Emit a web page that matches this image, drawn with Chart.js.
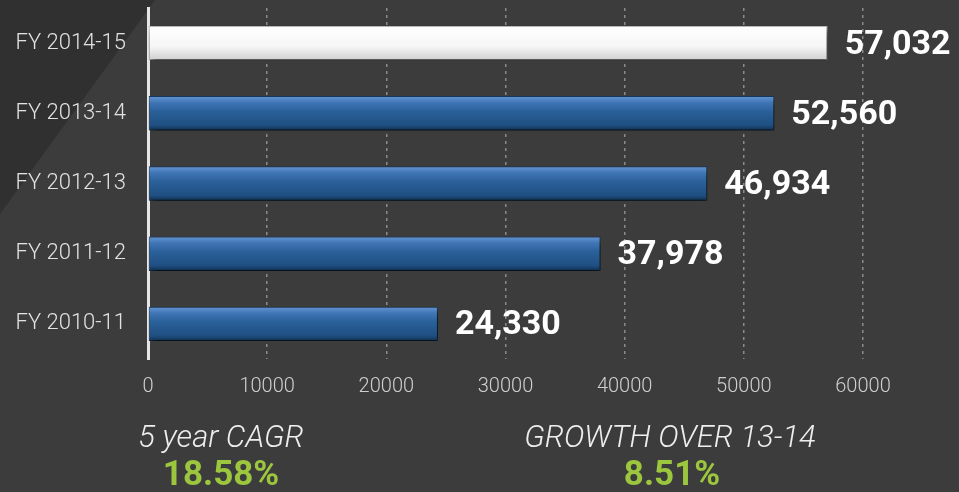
<!DOCTYPE html>
<html>
<head>
<meta charset="utf-8">
<script src="https://cdn.jsdelivr.net/npm/chart.js@4"></script>
<style>
  html, body { margin: 0; padding: 0; background: #3c3c3c; }
  #wrap { position: relative; width: 959px; height: 492px; overflow: hidden; }
  canvas { position: absolute; left: 0; top: 0; }
  .cap { position: absolute; font-family: Roboto, sans-serif; font-style: italic; font-weight: 300;
         font-size: 31px; color: #eeeeee; transform: translateX(-50%); white-space: nowrap; }
  .val { position: absolute; font-family: Roboto, sans-serif; font-weight: 700;
         font-size: 35px; color: #9cc63d; transform: translateX(-50%); white-space: nowrap; }
</style>
</head>
<body>
<div id="wrap">
  <canvas id="salesChart" width="959" height="492"></canvas>
  <div class="cap" style="left:221px; top:418px;">5 year CAGR</div>
  <div class="val" style="left:221px; top:453px;">18.58%</div>
  <div class="cap" style="left:670px; top:418px;">GROWTH OVER 13-14</div>
  <div class="val" style="left:672px; top:453px;">8.51%</div>
</div>
<script>
// chart values
const years = ['FY 2014-15', 'FY 2013-14', 'FY 2012-13', 'FY 2011-12', 'FY 2010-11'];
const sales = [57032, 52560, 46934, 37978, 24330];
const xTicks = [0, 10000, 20000, 30000, 40000, 50000, 60000];

// dark background with the diagonal corner
const backdrop = {
    id: 'backdrop',
    beforeDraw(chart) {
        const ctx = chart.ctx;
        ctx.save();
        ctx.fillStyle = '#3c3c3c';
        ctx.fillRect(0, 0, chart.width, chart.height);
        ctx.fillStyle = '#303030';
        ctx.beginPath();
        ctx.moveTo(0, 0);
        ctx.lineTo(155, 0);
        ctx.lineTo(0, 214);
        ctx.closePath();
        ctx.fill();
        ctx.restore();
    }
};

// shadow under the bars
const barShadow = {
    id: 'barShadow',
    beforeDatasetsDraw(chart) {
        const ctx = chart.ctx;
        ctx.save();
        ctx.shadowColor = 'rgba(0,0,0,0.75)';
        ctx.shadowBlur = 6;
        ctx.shadowOffsetY = 5;
        ctx.shadowOffsetX = 2;
    },
    afterDatasetsDraw(chart) {
        chart.ctx.restore();
    }
};

// value labels to the right of each bar
const valueLabels = {
    id: 'valueLabels',
    afterDatasetsDraw(chart) {
        const ctx = chart.ctx;
        const meta = chart.getDatasetMeta(0);
        ctx.save();
        ctx.font = 'bold 34px Roboto';
        ctx.fillStyle = '#ffffff';
        ctx.textAlign = 'left';
        ctx.textBaseline = 'middle';
        meta.data.forEach((bar, i) => {
            ctx.fillText(sales[i].toLocaleString('en-US'), bar.x + 17, bar.y + 2);
        });
        ctx.restore();
    }
};

function barFill(context) {
    const chart = context.chart;
    const yScale = chart.scales.y;
    if (!chart.chartArea || !yScale) return '#2a6099';
    const yc = yScale.getPixelForValue(context.dataIndex);
    const g = chart.ctx.createLinearGradient(0, yc - 17, 0, yc + 17);
    if (context.dataIndex === 0) {
        g.addColorStop(0, '#ffffff');
        g.addColorStop(0.6, '#f6f6f6');
        g.addColorStop(1, '#cfcfcf');
    } else {
        g.addColorStop(0, '#6494d2');
        g.addColorStop(0.2, '#3e74b4');
        g.addColorStop(0.45, '#2a6099');
        g.addColorStop(0.85, '#1f4f82');
        g.addColorStop(1, '#10304f');
    }
    return g;
}

new Chart(document.getElementById('salesChart'), {
    type: 'bar',
    data: {
        labels: years,
        datasets: [{
            label: 'Sales',
            data: sales,
            backgroundColor: barFill,
            borderColor: (c) => c.dataIndex === 0 ? '#bdbdbd' : '#17385c',
            borderWidth: 1,
            borderSkipped: false,
            barPercentage: 0.49,
            categoryPercentage: 1
        }]
    },
    plugins: [backdrop, barShadow, valueLabels],
    options: {
        indexAxis: 'y',
        responsive: false,
        animation: false,
        layout: { padding: { top: 8, right: 96, bottom: 77, left: 0 } },
        plugins: {
            legend: { display: false },
            tooltip: { enabled: false }
        },
        scales: {
            x: {
                min: 0,
                max: 60000,
                afterBuildTicks: (s) => { s.ticks = xTicks.map(v => ({ value: v })); },
                grid: {
                    color: '#8a8a8a',
                    lineWidth: 1.5,
                    drawTicks: false
                },
                border: { display: false, dash: [3, 4] },
                ticks: {
                    color: '#cfcfcf',
                    padding: 16,
                    callback: (v) => String(v),
                    font: { family: 'Roboto', size: 20, weight: '300' }
                }
            },
            y: {
                afterFit: (s) => { s.width = 148; s.paddingTop = 0; s.paddingBottom = 0; },
                grid: { display: false, drawTicks: false },
                border: { display: true, color: '#e6e6e6', width: 3 },
                ticks: {
                    color: '#e2e2e2',
                    padding: 22,
                    font: { family: 'Roboto', size: 22, weight: '300' }
                }
            }
        }
    }
});
</script>
</body>
</html>
